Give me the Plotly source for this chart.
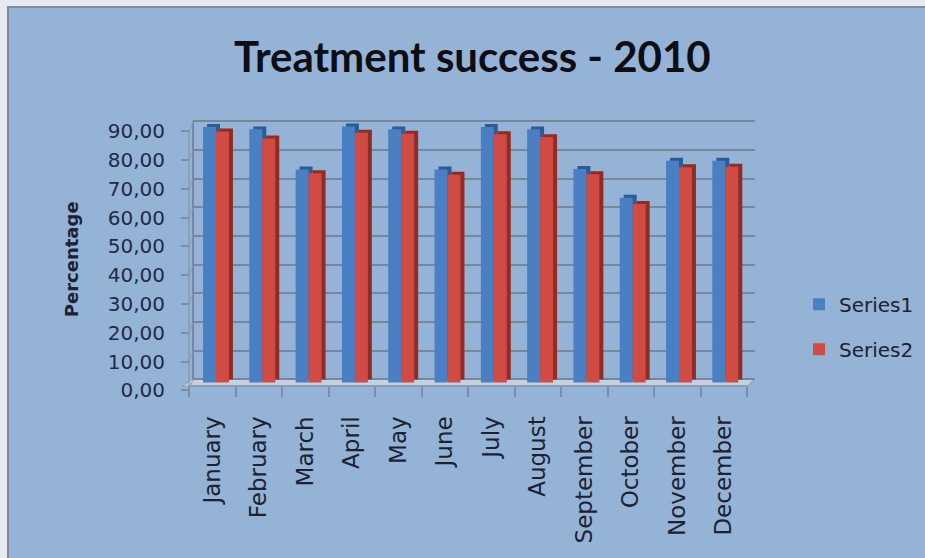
import plotly.graph_objects as go

# ---- data -------------------------------------------------------------
months = ["January", "February", "March", "April", "May", "June", "July",
          "August", "September", "October", "November", "December"]
series1 = [89.0, 88.2, 74.2, 89.2, 88.2, 74.2, 89.0, 88.2, 74.4, 64.4, 77.3, 77.3]
series2 = [87.5, 85.0, 72.9, 87.0, 86.7, 72.4, 86.5, 85.5, 72.6, 62.2, 75.0, 75.2]
y_ticks = [0, 10, 20, 30, 40, 50, 60, 70, 80, 90]

title_text = "Treatment success - 2010"
y_title = "Percentage"

# ---- geometry (pixel layout of the 925 x 558 canvas) ------------------
W, H = 925, 558


def fx(p):
    return p / W


def fy(p):
    return 1 - p / H


SCALE = 2.911          # pixels per percentage point
CAT = 46.3             # pixels per month
BACK_L, BACK_R = 193, 755    # back wall
BACK_BASE = 385              # back wall zero line
BAR_BASE = 388               # bar front faces sit here
FRONT_L, FRONT_R = 189, 747  # front axis
FRONT_LINE = 392
FRONT_ZERO = 396
TOP = 114
GROUP0 = 216                 # first month's blue/red boundary

BW = 0.28                    # bar width in category units
DEPTH = 4 / CAT              # sideways depth of the 3D bars

BG = "#95b3d7"
GRID = "#76879e"
BLUE, BLUE_DK = "#4b7fc3", "#2f5b94"
RED, RED_DK = "#d04b44", "#8e2c28"
TXT = "#1c2233"
FONT = "DejaVu Sans"

fig = go.Figure()

# depth faces (caps and side walls) drawn behind the front faces
fig.add_trace(go.Bar(x=months, y=series1, xaxis="x", yaxis="y",
                     offset=-BW + DEPTH, width=BW, marker_color=BLUE_DK,
                     marker_line_width=0, showlegend=False, hoverinfo="skip"))
fig.add_trace(go.Bar(x=months, y=series2, xaxis="x", yaxis="y",
                     offset=DEPTH, width=BW, marker_color=RED_DK,
                     marker_line_width=0, showlegend=False, hoverinfo="skip"))
# front faces
fig.add_trace(go.Bar(x=months, y=series1, xaxis="x", yaxis="y3",
                     offset=-BW, width=BW, marker_color=BLUE,
                     marker_line_width=0, name="Series1", legendgroup="s1"))
fig.add_trace(go.Bar(x=months, y=series2, xaxis="x", yaxis="y3",
                     offset=0, width=BW, marker_color=RED,
                     marker_line_width=0, name="Series2", legendgroup="s2"))
# front axis frame carrying the month and percentage labels
fig.add_trace(go.Scatter(x=months, y=series1, xaxis="x2", yaxis="y2",
                         mode="markers", marker_opacity=0,
                         showlegend=False, hoverinfo="skip"))

shapes = [
    # chart area with its border
    dict(type="rect", xref="paper", yref="paper", layer="below",
         x0=fx(8), x1=fx(W + 20), y0=fy(H + 20), y1=fy(7),
         fillcolor=BG, line=dict(color="#7f8b99", width=2)),
    # floor
    dict(type="path", xref="paper", yref="paper", layer="below",
         path=(f"M{fx(182)},{fy(FRONT_LINE)} L{fx(FRONT_R)},{fy(FRONT_LINE)} "
               f"L{fx(BACK_R)},{fy(BACK_BASE - 1)} L{fx(BACK_L)},{fy(BACK_BASE - 1)} Z"),
         fillcolor="#c3d1e3", line=dict(color="#8d9bb0", width=1)),
    # back-left edge of the wall
    dict(type="line", xref="x domain", yref="y", layer="below",
         x0=0, x1=0, y0=0, y1=y_ticks[-1], line=dict(color=GRID, width=2)),
    # front-left edge
    dict(type="line", xref="x2 domain", yref="y2", layer="below",
         x0=0, x1=0, y0=0, y1=y_ticks[-1], line=dict(color="#8d9bb0", width=1.5)),
]
# side-wall connectors between front ticks and back gridlines
shift = (FRONT_ZERO - BACK_BASE) / SCALE
for t in y_ticks:
    shapes.append(dict(type="line", xref="paper", yref="y", layer="below",
                       x0=fx(FRONT_L), x1=fx(BACK_L), y0=t - shift, y1=t,
                       line=dict(color="#8d9bb0", width=1)))

annotations = [
    dict(text=f"<b>{title_text}</b>", xref="paper", yref="paper",
         x=fx(472), y=fy(57), xanchor="center", yanchor="middle",
         showarrow=False, font=dict(family="Lato", size=42, color="#0d0d14")),
    dict(text=f"<b>{y_title}</b>", xref="paper", yref="paper",
         x=fx(71), y=fy(263), xanchor="center", yanchor="middle",
         textangle=-90, showarrow=False,
         font=dict(family=FONT, size=18, color=TXT)),
]

fig.update_layout(
    width=W, height=H,
    margin=dict(l=0, r=0, t=0, b=0),
    paper_bgcolor="#e6eaf0",
    plot_bgcolor="rgba(0,0,0,0)",
    barmode="overlay",
    separators=",.",
    shapes=shapes,
    annotations=annotations,
    showlegend=True,
    legend=dict(x=fx(799), y=fy(289), xanchor="left", yanchor="top",
                bgcolor="rgba(0,0,0,0)", traceorder="grouped",
                tracegroupgap=16, font=dict(family=FONT, size=20, color=TXT)),
    xaxis=dict(domain=[fx(BACK_L), fx(BACK_R)], type="category",
               range=[(BACK_L - GROUP0) / CAT, (BACK_R - GROUP0) / CAT],
               visible=False, anchor="y"),
    yaxis=dict(domain=[fy(FRONT_LINE), fy(TOP)], anchor="x",
               range=[-(FRONT_LINE - BACK_BASE) / SCALE, (BACK_BASE - TOP) / SCALE],
               tickmode="array", tickvals=y_ticks, showticklabels=False,
               ticks="", showgrid=True, gridcolor=GRID, gridwidth=2,
               zeroline=False, showline=False),
    yaxis3=dict(overlaying="y", anchor="x", visible=False,
                range=[-(FRONT_LINE - BAR_BASE) / SCALE, (BAR_BASE - TOP) / SCALE]),
    xaxis2=dict(domain=[fx(FRONT_L), fx(FRONT_R)], anchor="free",
                position=fy(FRONT_LINE), type="category", range=[-0.5, 11.5],
                tickson="boundaries", ticks="outside", ticklen=10,
                tickcolor="#7d8da3", tickwidth=1.5,
                showline=True, linecolor="#8d9bb0", linewidth=1.5,
                showgrid=False, tickangle=-90, ticklabelstandoff=20,
                tickfont=dict(family=FONT, size=23, color=TXT)),
    yaxis2=dict(domain=[fy(400), fy(118)], anchor="free", position=fx(FRONT_L),
                range=[-(400 - FRONT_ZERO) / 2.92, (FRONT_ZERO - 118) / 2.92],
                tickmode="array", tickvals=y_ticks, tickformat=".2f",
                ticks="outside", ticklen=8, tickcolor="#7d8da3", tickwidth=1.5,
                showgrid=False, zeroline=False, showline=False,
                ticklabelstandoff=12,
                tickfont=dict(family=FONT, size=20, color="#1f2a48")),
)

fig.write_html("out.html")
